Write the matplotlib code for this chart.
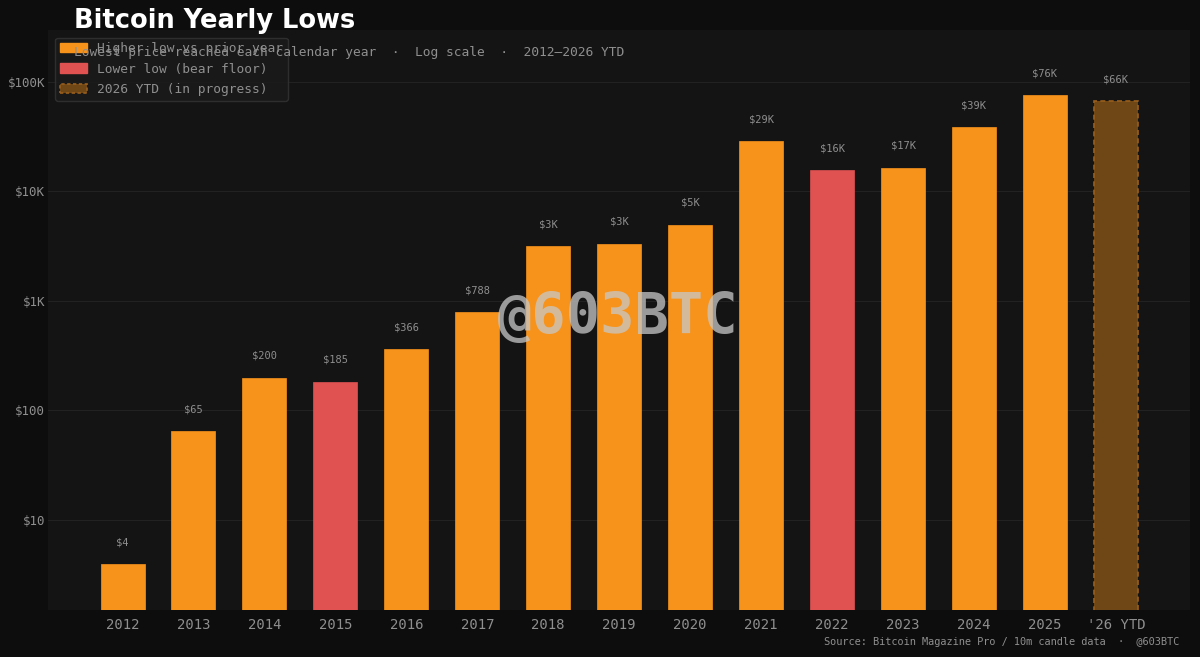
import matplotlib
matplotlib.use("Agg")
import matplotlib.pyplot as plt
from matplotlib.patches import Patch
from matplotlib.ticker import FixedLocator, NullLocator

years = ["2012", "2013", "2014", "2015", "2016", "2017", "2018", "2019",
         "2020", "2021", "2022", "2023", "2024", "2025", "'26 YTD"]
lows = [3.95, 64, 198, 182, 364, 780, 3170, 3320, 4950, 28900, 15700,
        16450, 38800, 76000, 66500]
labels = ["$4", "$65", "$200", "$185", "$366", "$788", "$3K", "$3K", "$5K",
          "$29K", "$16K", "$17K", "$39K", "$76K", "$66K"]
kinds = ["higher", "higher", "higher", "lower", "higher", "higher", "higher",
         "higher", "higher", "higher", "lower", "higher", "higher", "higher",
         "ytd"]

ORANGE = "#F7931A"
RED = "#E05252"
YTD_FILL = "#6F4716"
YTD_EDGE = "#9A5E1C"
FIG_BG = "#0d0d0d"
AX_BG = "#141414"
GREY = "#8f8f8f"
MONO = "DejaVu Sans Mono"

fig = plt.figure(figsize=(12, 6.57), dpi=100, facecolor=FIG_BG)
ax = fig.add_axes([0.040, 0.072, 0.952, 0.883])
ax.set_facecolor(AX_BG)

x = list(range(len(years)))
for i, (v, k) in enumerate(zip(lows, kinds)):
    if k == "ytd":
        ax.bar(i, v, width=0.62, color=YTD_FILL, edgecolor=YTD_EDGE,
               linewidth=1.2, linestyle=(0, (3, 2)), zorder=2)
    else:
        c = ORANGE if k == "higher" else RED
        ax.bar(i, v, width=0.62, color=c, edgecolor=c, linewidth=0.5, zorder=2)
    ax.annotate(labels[i], xy=(i, v), xytext=(0, 12), textcoords="offset points",
                ha="center", va="bottom", fontsize=7.5, color=GREY,
                family=MONO, zorder=3)

ax.set_yscale("log")
ax.set_ylim(1.5, 300000)
ax.set_xlim(-1.05, 15.05)
ax.yaxis.set_major_locator(FixedLocator([10, 100, 1000, 10000, 100000]))
ax.yaxis.set_minor_locator(NullLocator())
ax.set_yticklabels(["$10", "$100", "$1K", "$10K", "$100K"])
ax.set_xticks(x)
ax.set_xticklabels(years)
for t in ax.get_xticklabels():
    t.set_family(MONO)
    t.set_fontsize(10)
    t.set_color(GREY)
for t in ax.get_yticklabels():
    t.set_family(MONO)
    t.set_fontsize(9)
    t.set_color(GREY)
ax.tick_params(axis="x", length=0, pad=6)
ax.tick_params(axis="y", length=0, pad=2)
ax.grid(axis="y", color="#222222", linewidth=0.8, zorder=0)
ax.set_axisbelow(True)
for s in ax.spines.values():
    s.set_visible(False)

fig.text(0.062, 0.968, "Bitcoin Yearly Lows", fontsize=18.5, fontweight="bold",
         color="white", va="center", ha="left")
ax.text(0.023, 0.96, "Lowest price reached each calendar year  ·  Log scale  ·  2012\u20132026 YTD",
        transform=ax.transAxes, fontsize=9.3, color=GREY, family=MONO,
        va="center", ha="left", zorder=6)

handles = [
    Patch(facecolor=ORANGE, edgecolor=ORANGE, label="Higher low vs prior year"),
    Patch(facecolor=RED, edgecolor=RED, label="Lower low (bear floor)"),
    Patch(facecolor=YTD_FILL, edgecolor=YTD_EDGE, linestyle=(0, (2, 1.5)),
          linewidth=1.2, label="2026 YTD (in progress)"),
]
leg = ax.legend(handles=handles, loc="upper left", bbox_to_anchor=(0.003, 0.993),
                prop={"family": MONO, "size": 9.3}, frameon=True,
                facecolor="#1a1a1a", edgecolor="#333333", framealpha=0.85,
                labelcolor=GREY, borderpad=0.35, labelspacing=0.58,
                handlelength=2.1, handletextpad=0.8, borderaxespad=0.3)
leg.set_zorder(5)

fig.text(0.515, 0.515, "@603BTC", fontsize=41, fontweight="bold", family=MONO,
         color="#c8c8c8", alpha=0.75, ha="center", va="center", zorder=10)

fig.text(0.983, 0.023, "Source: Bitcoin Magazine Pro / 10m candle data  ·  @603BTC",
         fontsize=7.35, color=GREY, family=MONO, ha="right", va="center")

fig.savefig("out.png", dpi=100, facecolor=FIG_BG)
